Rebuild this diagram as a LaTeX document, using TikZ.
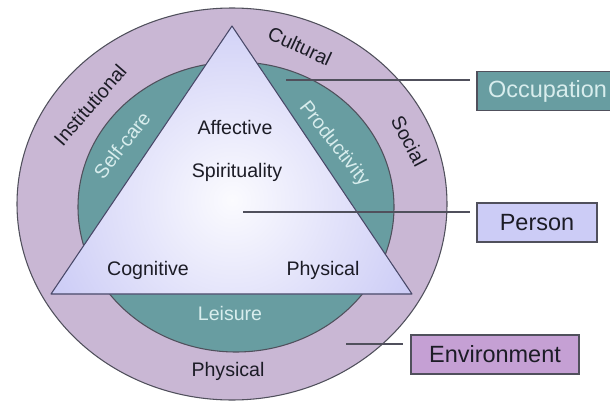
\documentclass[tikz,border=0pt]{standalone}
\usepackage{fontspec}
\setmainfont{Liberation Sans}
\definecolor{envring}{RGB}{201,183,212}
\definecolor{occteal}{RGB}{104,157,161}
\definecolor{perslav}{RGB}{204,204,246}
\definecolor{envbox}{RGB}{197,160,212}
\definecolor{ringline}{RGB}{80,80,92}
\definecolor{triline}{RGB}{72,72,104}
\definecolor{lighttext}{RGB}{216,237,237}
\definecolor{darktext}{RGB}{28,28,38}

\begin{document}
\begin{tikzpicture}[x=0.75pt, y=-0.75pt,
    ring/.style={draw=ringline, line width=0.8pt},
    aspect/.style={font=\fontsize{14.7}{16}\selectfont, text=darktext, inner sep=0pt},
    area/.style={font=\fontsize{14.7}{16}\selectfont, text=lighttext, inner sep=0pt},
    legend/.style={draw=ringline, line width=0.8pt, minimum height=29.25pt, inner sep=0pt, font=\fontsize{17.6}{19}\selectfont},
    pointer/.style={draw=ringline, line width=0.8pt},
]
    \useasboundingbox (0,0) rectangle (610,403);
    \clip (0,0) rectangle (610,403);
    \fill[white] (0,0) rectangle (610,403);

    % Rings: environment and occupation
    \path[ring, fill=envring] (232,204) ellipse [x radius=215, y radius=196];
    \path[ring, fill=occteal] (236,207) ellipse [x radius=158, y radius=145];

    % Person triangle
    \coordinate (apex) at (232,26);
    \coordinate (right) at (412,294);
    \coordinate (left) at (51,294);
    \fill[perslav] (apex) -- (right) -- (left) -- cycle;
    \begin{scope}
        \clip (apex) -- (right) -- (left) -- cycle;
        \shade[inner color=white!92!perslav, outer color=perslav] (232,200) circle (200);
    \end{scope}
    \draw[triline, line width=0.8pt, line join=round] (apex) -- (right) -- (left) -- cycle;

    % Person
    \node[aspect] (affective) at (235,127) {Affective};
    \node[aspect] (spirit) at (237,172) {Spirituality};
    \node[aspect] (cognitive) at (148,270) {Cognitive};
    \node[aspect] (physbody) at (323,270) {Physical};

    % Occupation
    \node[area, rotate=52] (selfcare) at (122,145) {Self-care};
    \node[area, rotate=-52] (product) at (334,144) {Productivity};
    \node[area] (leisure) at (230,313) {Leisure};

    % Environment
    \node[aspect, rotate=49] (institut) at (90,105) {Institutional};
    \node[aspect, rotate=-25] (cultural) at (300,46) {Cultural};
    \node[aspect, rotate=-62] (social) at (409,141) {Social};
    \node[aspect] (physenv) at (228,371) {Physical};

    % Legend boxes
    \node[legend, fill=occteal, text=lighttext, minimum width=105.75pt] (occupation) at (547.5,91) {Occupation};
    \node[legend, fill=perslav, text=darktext, minimum width=90pt] (person) at (537,222.5) {Person};
    \node[legend, fill=envbox, text=darktext, minimum width=126pt] (environment) at (495,354.5) {Environment};

    % Pointers
    \coordinate (occtip) at (286,80);
    \coordinate (perstip) at (243,212);
    \coordinate (envtip) at (346,344);
    \draw[pointer, shorten >=4.5pt] (occtip) -- (occtip -| occupation.west);
    \draw[pointer, shorten >=4.5pt] (perstip) -- (perstip -| person.west);
    \draw[pointer, shorten >=5.25pt] (envtip) -- (envtip -| environment.west);
\end{tikzpicture}
\end{document}
